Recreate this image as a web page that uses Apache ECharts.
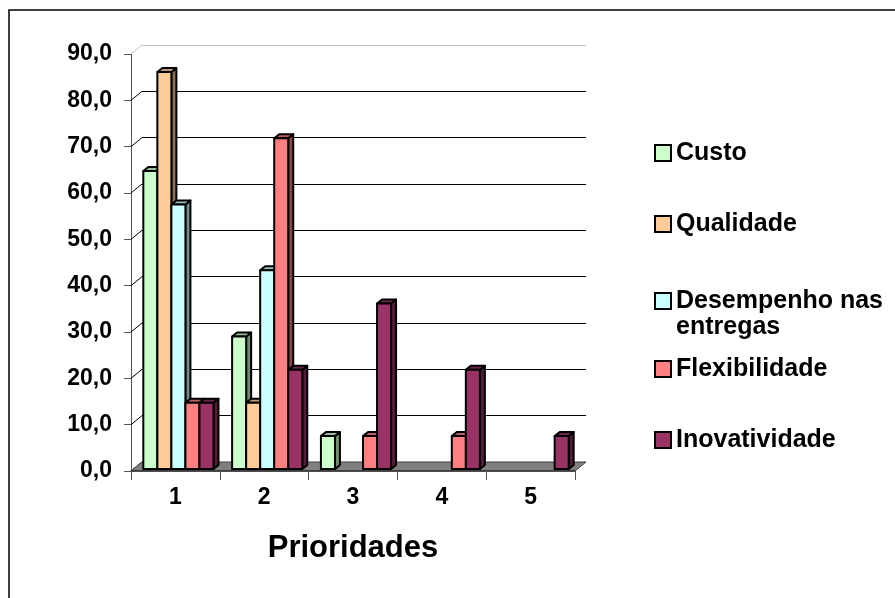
<!DOCTYPE html>
<html>
<head>
<meta charset="utf-8">
<script src="https://cdn.jsdelivr.net/npm/echarts@6/dist/echarts.min.js"></script>
<style>
  html, body { margin: 0; padding: 0; background: #fff; }
  #chart { width: 895px; height: 598px; }
</style>
</head>
<body>
<div id="chart"></div>
<script>
// Priority ranking (percent of respondents) per competitive criterion
const categories = ['1', '2', '3', '4', '5'];
const custo = [64.3, 28.6, 7.1, 0, 0];
const qualidade = [85.7, 14.3, 0, 0, 0];
const desempenho = [57.1, 42.9, 0, 0, 0];
const flexibilidade = [14.3, 71.4, 7.1, 7.1, 0];
const inovatividade = [14.3, 21.4, 35.7, 21.4, 7.1];
const yTicks = [0, 10, 20, 30, 40, 50, 60, 70, 80, 90];

const seriesNames = ['Custo', 'Qualidade', 'Desempenho nas entregas', 'Flexibilidade', 'Inovatividade'];
const seriesValues = [custo, qualidade, desempenho, flexibilidade, inovatividade];
const seriesColors = ['#CCFFCC', '#FFCC99', '#CCFFFF', '#FF8080', '#993366'];

// Pseudo-3D geometry
const FONT = "'Liberation Sans', Arial, sans-serif";
const DEPTH_X = 11, DEPTH_Y = 9;          // front plane -> back wall
const BAR_SHIFT_X = 3, BAR_SHIFT_Y = 2;   // bar front faces sit slightly behind the front plane
const BAR_DX = 5, BAR_DY = 4;             // bar depth
const GROUP_FRAC = 0.79;                  // share of a category used by the cluster
const FRONT = { left: 131, top: 54, right: 320, bottom: 127 };

function shade(hex, f) {
  const n = parseInt(hex.slice(1), 16);
  const r = Math.round(((n >> 16) & 255) * f);
  const g = Math.round(((n >> 8) & 255) * f);
  const b = Math.round((n & 255) * f);
  return 'rgb(' + r + ',' + g + ',' + b + ')';
}

function barRenderer(k, color) {
  const n = seriesNames.length;
  return function (params, api) {
    const v = api.value(1);
    if (!v) return null;
    const cat = api.value(0);
    const base = api.coord([cat, 0]);
    const top = api.coord([cat, v]);
    const band = api.size([1, 0])[0];
    const bw = band * GROUP_FRAC / n;
    const x0 = base[0] - band * GROUP_FRAC / 2 + k * bw + BAR_SHIFT_X;
    const x1 = x0 + bw;
    const yb = base[1] - BAR_SHIFT_Y;
    const yt = top[1] - BAR_SHIFT_Y;
    const line = { stroke: '#000', lineWidth: 2, lineJoin: 'round' };
    return {
      type: 'group',
      children: [
        { type: 'polygon', shape: { points: [[x1, yb], [x1 + BAR_DX, yb - BAR_DY], [x1 + BAR_DX, yt - BAR_DY], [x1, yt]] },
          style: Object.assign({ fill: shade(color, 0.55) }, line) },
        { type: 'polygon', shape: { points: [[x0, yt], [x0 + BAR_DX, yt - BAR_DY], [x1 + BAR_DX, yt - BAR_DY], [x1, yt]] },
          style: Object.assign({ fill: shade(color, 0.75) }, line) },
        { type: 'rect', shape: { x: x0, y: yt, width: bw, height: yb - yt },
          style: Object.assign({ fill: color }, line) }
      ]
    };
  };
}

const barSeries = seriesNames.map(function (name, k) {
  return {
    name: name,
    type: 'custom',
    xAxisIndex: 0,
    yAxisIndex: 0,
    z: 5,
    itemStyle: { color: seriesColors[k], borderColor: '#000', borderWidth: 2 },
    renderItem: barRenderer(k, seriesColors[k]),
    encode: { x: 0, y: 1 },
    data: seriesValues[k].map(function (v, i) { return [i, v]; })
  };
});

// Floor of the 3D box
const floorSeries = {
  type: 'custom',
  xAxisIndex: 0, yAxisIndex: 0,
  z: 3, silent: true,
  renderItem: function (params, api) {
    const band = api.size([1, 0])[0];
    const a = api.coord([0, 0]);
    const b = api.coord([categories.length - 1, 0]);
    const l = a[0] - band / 2, r = b[0] + band / 2, y = a[1];
    return {
      type: 'polygon',
      shape: { points: [[l, y], [l + DEPTH_X, y - DEPTH_Y], [r + DEPTH_X, y - DEPTH_Y], [r, y]] },
      style: { fill: '#808080', stroke: '#404040', lineWidth: 1 }
    };
  },
  data: [[0, 0]]
};

// Gridlines on the left side wall
const sideWallSeries = {
  type: 'custom',
  xAxisIndex: 0, yAxisIndex: 0,
  z: 2, silent: true,
  renderItem: function (params, api) {
    const v = api.value(1);
    const band = api.size([1, 0])[0];
    const p = api.coord([0, v]);
    const x = p[0] - band / 2;
    return {
      type: 'line',
      shape: { x1: x, y1: p[1], x2: x + DEPTH_X, y2: p[1] - DEPTH_Y },
      style: { stroke: v === yTicks[yTicks.length - 1] ? '#c0c0c0' : '#000', lineWidth: 1 }
    };
  },
  data: yTicks.map(function (v) { return [0, v]; })
};

const wallColors = yTicks.map(function (v, i) { return i === yTicks.length - 1 ? '#c0c0c0' : '#000'; });

// Legend entries, one block per series
const legendCenters = [148, 219, 296, 364, 435];
const legends = seriesNames.map(function (name, k) {
  const twoLine = name === 'Desempenho nas entregas';
  return {
    data: [name],
    left: 649,
    top: twoLine ? legendCenters[k] - 39 : legendCenters[k] - 13,
    orient: 'vertical',
    icon: 'rect',
    itemWidth: 16,
    itemHeight: 16,
    selectedMode: false,
    itemStyle: { borderColor: '#000', borderWidth: 2 },
    formatter: twoLine ? function () { return '{e| }\n{t|Desempenho nas}\n{t|entregas}'; } : '{name}',
    textStyle: {
      fontFamily: FONT, fontWeight: 'bold', fontSize: 25, color: '#000', lineHeight: 26,
      rich: {
        e: { fontSize: 25, lineHeight: 26, fontWeight: 'bold', fontFamily: FONT },
        t: { fontSize: 25, lineHeight: 26, fontWeight: 'bold', fontFamily: FONT, color: '#000' }
      }
    }
  };
});

const option = {
  animation: false,
  backgroundColor: '#fff',
  graphic: [{
    type: 'rect', silent: true,
    shape: { x: 9, y: 10, width: 900, height: 600 },
    style: { fill: 'none', stroke: '#000', lineWidth: 1.5 }
  }],
  legend: legends,
  grid: [
    Object.assign({ containLabel: false }, FRONT),
    { left: FRONT.left + DEPTH_X, top: FRONT.top - DEPTH_Y, right: FRONT.right - DEPTH_X, bottom: FRONT.bottom + DEPTH_Y, containLabel: false }
  ],
  xAxis: [
    {
      gridIndex: 0,
      type: 'category',
      data: categories,
      boundaryGap: true,
      axisLine: { show: true, lineStyle: { color: '#333', width: 1.5 } },
      axisTick: { show: true, length: 9, lineStyle: { color: '#555' } },
      axisLabel: { fontFamily: FONT, fontWeight: 'bold', fontSize: 23, color: '#000', margin: 15 },
      name: 'Prioridades',
      nameLocation: 'middle',
      nameGap: 62,
      nameTextStyle: { fontFamily: FONT, fontWeight: 'bold', fontSize: 31, color: '#000' },
      splitLine: { show: false },
      z: 4
    },
    { gridIndex: 1, type: 'category', data: categories, show: false }
  ],
  yAxis: [
    {
      gridIndex: 0,
      type: 'value',
      min: 0, max: 90, interval: 10,
      axisLine: { show: true, lineStyle: { color: '#555', width: 1 } },
      axisTick: { show: true, length: 7, lineStyle: { color: '#555' } },
      axisLabel: {
        fontFamily: FONT, fontWeight: 'bold', fontSize: 23, color: '#000', margin: 19,
        formatter: function (v) { return v.toFixed(1).replace('.', ','); }
      },
      splitLine: { show: false }
    },
    {
      gridIndex: 1,
      type: 'value',
      min: 0, max: 90, interval: 10,
      axisLine: { show: false }, axisTick: { show: false }, axisLabel: { show: false },
      splitLine: { show: true, lineStyle: { color: wallColors, width: 1 } }
    }
  ],
  series: [sideWallSeries, floorSeries].concat(barSeries)
};

const chart = echarts.init(document.getElementById('chart'), null, { renderer: 'canvas' });
chart.setOption(option);
</script>
</body>
</html>
